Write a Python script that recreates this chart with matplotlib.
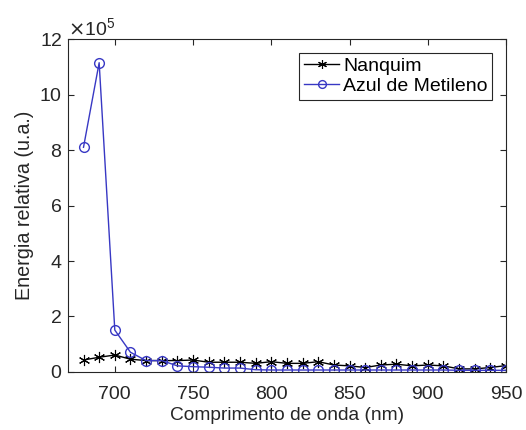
import numpy as np
import matplotlib.pyplot as plt
from matplotlib.ticker import ScalarFormatter

plt.rcParams['font.family'] = ['Liberation Sans', 'DejaVu Sans']

# wavelength (nm)
wavelength = list(range(680, 951, 10))

# relative energy (a.u.), in units of 1e5
nanquim = [0.43, 0.53, 0.61, 0.46, 0.41, 0.41, 0.41, 0.43, 0.35, 0.35,
           0.35, 0.31, 0.37, 0.31, 0.31, 0.37, 0.25, 0.22, 0.16, 0.25,
           0.28, 0.22, 0.25, 0.22, 0.11, 0.11, 0.16, 0.23]
azul = [8.1, 11.15, 1.51, 0.71, 0.41, 0.41, 0.22, 0.19, 0.17, 0.14,
        0.14, 0.08, 0.07, 0.07, 0.07, 0.07, 0.07, 0.07, 0.07, 0.07,
        0.07, 0.07, 0.07, 0.07, 0.06, 0.06, 0.06, 0.06]
nanquim = np.array(nanquim) * 1e5
azul = np.array(azul) * 1e5

fig = plt.figure(figsize=(5.26, 4.30), dpi=100)
ax = fig.add_axes([0.129, 0.135, 0.833, 0.774])

ax.plot(wavelength, nanquim, color="black", marker=(6, 2, 0), markersize=8,
        markeredgewidth=0.8, linewidth=1, label="Nanquim")
ax.plot(wavelength, azul, color="#3838c4", marker="o", markersize=7,
        markerfacecolor="none", linewidth=1, label="Azul de Metileno")

ax.set_xlim(670, 950)
ax.set_ylim(0, 12e5)
ax.set_xticks([700, 750, 800, 850, 900, 950])
ax.set_yticks(np.arange(0, 12.1e5, 2e5))

fmt = ScalarFormatter(useMathText=True)
fmt.set_powerlimits((5, 5))
ax.yaxis.set_major_formatter(fmt)
ax.yaxis.get_offset_text().set_fontsize(14)
ax.yaxis.get_offset_text().set_color("#262626")

ax.tick_params(axis="both", direction="in", length=4, labelsize=14,
               top=True, right=True, colors="#262626")
ax.tick_params(axis="x", pad=10)
ax.tick_params(axis="y", pad=4)
for s in ax.spines.values():
    s.set_color("#262626")
    s.set_linewidth(0.8)

ax.set_xlabel("Comprimento de onda (nm)", fontsize=13.8, color="#262626",
              labelpad=3)
ax.set_ylabel("Energia relativa (u.a.)", fontsize=14.2, color="#262626",
              labelpad=4)

leg = ax.legend(loc="upper right", fontsize=14, fancybox=False,
                edgecolor="#262626", framealpha=1, handlelength=1.8,
                borderaxespad=0.7, borderpad=0.25, labelspacing=0.1,
                handletextpad=0.2, markerscale=0.8)
leg.get_frame().set_linewidth(0.8)

plt.savefig("out.png", dpi=100)
